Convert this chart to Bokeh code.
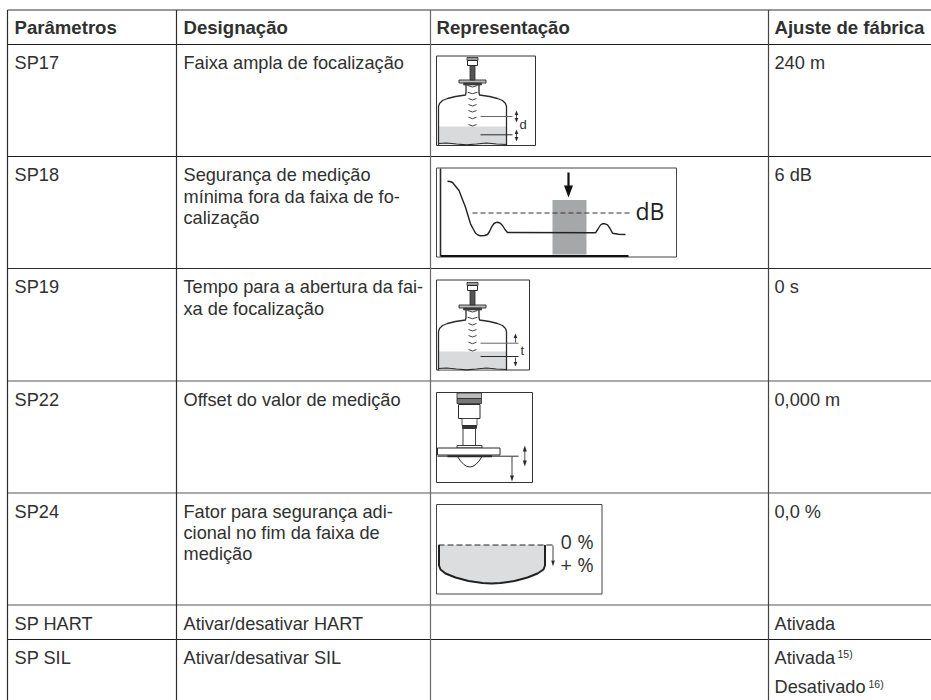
from bokeh.plotting import figure
from bokeh.embed import file_html
from bokeh.resources import INLINE
from bokeh.core.properties import value

# ---- table content ----
headers = ["Parâmetros", "Designação", "Representação", "Ajuste de fábrica"]
parameters = ["SP17", "SP18", "SP19", "SP22", "SP24", "SP HART", "SP SIL"]
designations = [
    ["Faixa ampla de focalização"],
    ["Segurança de medição", "mínima fora da faixa de fo-", "calização"],
    ["Tempo para a abertura da fai-", "xa de focalização"],
    ["Offset do valor de medição"],
    ["Fator para segurança adi-", "cional no fim da faixa de", "medição"],
    ["Ativar/desativar HART"],
    ["Ativar/desativar SIL"],
]
factory = ["240 m", "6 dB", "0 s", "0,000 m", "0,0 %", "Ativada", "Ativada"]
row_tops = [44, 156, 268, 380.5, 492.5, 604.5, 639]
row_colors = ["#1c1c1c", "#1c1c1c", "#2c2c2c", "#555555", "#555555", "#555555", "#1c1c1c"]
col_x = [7, 176, 430, 768]
col_colors = ["#2c2c2c", "#2c2c2c", "#6a6a6a", "#444444"]

INK = "#2a2a2a"
TXT = "#303030"
p = figure(width=931, height=700, x_range=(0, 931), y_range=(700, 0),
           toolbar_location=None, output_backend="svg", min_border=0,
           outline_line_color=None)
p.axis.visible = False
p.grid.visible = False
p.background_fill_color = "white"


def L(xs, ys, c=INK, w=1.0, dash="solid"):
    p.line(xs, ys, line_color=c, line_width=w, line_dash=dash)


def R(x0, y0, x1, y1, fill="white", line=INK, w=1.0):
    p.quad(left=x0, right=x1, top=y0, bottom=y1, fill_color=fill,
           line_color=line, line_width=w)


def T(x, y, s, size=18.2, bold=False, font="Liberation Sans", c=TXT):
    # y is the text baseline; the glyph is anchored at its vertical middle
    p.text([x], [y - 0.36 * size], text=[s], text_font=value(font),
           text_font_size=f"{size}px", text_color=c,
           text_font_style="bold" if bold else "normal",
           text_baseline="middle", text_align="left")


def head(x, y, up, c=INK, s=1.8, l=4.5):
    d = -1 if up else 1
    p.patch([x - s, x + s, x], [y - d * l, y - d * l, y], fill_color=c, line_color=None)


def sensor_tank(dy, gray=True):
    # vessel outline
    R(438, 126 + dy, 506, 144 + dy, fill="#d9dadb", line=None)
    lx = [438, 438, 439, 442, 447, 455, 465, 465.5, 465.5]
    ly = [145, 106, 103, 100, 98, 96, 94.5, 92, 84]
    L(lx, [v + dy for v in ly], w=1.3)
    rx = [506, 506, 505, 502, 497, 489, 479, 478.5, 478.5]
    L(rx, [v + dy for v in ly], w=1.3)
    L([438, 446, 456, 466, 476, 486, 496, 506],
      [v + dy for v in [143, 142.5, 143.5, 144.3, 143.5, 142.5, 143.5, 144]], w=1.2)
    # flange and sensor
    R(458.5, 79.5 + dy, 485.5, 82.5 + dy, fill="#bbbbbb", w=0.9)
    R(463, 82.5 + dy, 481, 84.5 + dy, fill="#444444", w=0.6)
    R(466.5, 57 + dy, 477.5, 60 + dy, fill="#999999", w=0.8)
    R(467, 60 + dy, 477, 65 + dy, fill="#ffffff", w=1.0)
    R(469.5, 65 + dy, 474.5, 79.5 + dy, fill="#555555", w=0.8)
    # radar waves
    for a, hw in zip([85, 91.7, 98, 104, 110, 116.7, 124], [5, 5, 4, 4, 4, 4, 4]):
        p.quadratic(x0=[472 - hw], y0=[a + dy], x1=[472 + hw], y1=[a + dy],
                    cx=[472], cy=[a + 3 + dy], line_color=INK, line_width=0.9)


# ---- table rules ----
for y, c in zip([9.5] + row_tops, ["#333333"] + row_colors):
    L([7, 931], [y, y], c=c, w=1.2)
for x, c in zip(col_x, col_colors):
    L([x, x], [9.5, 700], c=c, w=1.2)

# ---- text ----
for x, s in zip([14, 183, 436, 774], headers):
    T(x, 34, s, size=18.6, bold=True)
for s, y in zip(parameters, [t + 25.3 for t in row_tops[:6]] + [row_tops[6] + 25]):
    T(14, y, s)
for lines, top in zip(designations, row_tops):
    for j, s in enumerate(lines):
        T(183, top + 25.4 + j * 21.2, s)
for s, top in zip(factory, row_tops):
    T(774, top + 25.3, s)
T(837, 657, "15)", size=10.5)
T(774, 693, "Desativado")
T(868, 687, "16)", size=10.5)

# ---- diagram 1 ----
R(436, 55.5, 535, 145, fill="white", line="#333333", w=1)
sensor_tank(0)
L([480, 512], [116, 116], c="#666666")
L([480, 512], [134.3, 134.3])
L([516, 516], [112, 120], w=0.8)
head(516, 110, True); head(516, 122, False)
L([516, 516], [131, 139], w=0.8)
head(516, 129, True); head(516, 141, False)
T(519, 128.5, "d", size=13)

# ---- diagram 2 ----
R(436, 167.5, 676, 256.5, fill="white", line="#444444", w=1)
L([440, 440], [168, 255.5], w=1.6)
R(552, 199.5, 586, 254, fill="#a5a8a8", line=None)
L([440, 628], [255.5, 255.5], c="#111111", w=2)
L([472, 630], [212.5, 212.5], c="#333333", w=1, dash="5 3")
curve_x = [447, 449.5, 452, 458.5, 465, 470, 473, 475, 477.5, 480, 484, 487, 489, 491, 493.5, 496.5, 499.5, 502, 504.5, 507,
           595, 597.5, 600, 602, 604.5, 607, 609.5, 612, 618, 625]
curve_y = [180.7, 181, 182, 190, 206.7, 223.3, 229, 232.7, 234.5, 235.3, 235, 234, 231, 226.7, 223, 221.7, 222.5, 225, 229, 232,
           232.3, 228.5, 224.5, 223.3, 223.3, 224.3, 228, 232.7, 233.7, 234]
L(curve_x, curve_y, c="#222222", w=1.4)
L([568, 568], [172, 186], c="#111111", w=2.2)
head(568, 197, False, c="#111111", s=4.5, l=12)
T(635, 219, "dB", size=23, font="Open Sans", c="#222222")

# ---- diagram 3 ----
R(436, 279.5, 529, 369.5, fill="white", line="#333333", w=1)
sensor_tank(225)
L([480, 518], [342.7, 342.7], c="#666666")
L([480, 518], [356, 356])
L([515, 515], [335, 342], w=0.8); head(515, 333, True)
L([515, 515], [357, 364], w=0.8); head(515, 366, False)
T(520, 355, "t", size=13)

# ---- diagram 4 ----
R(436, 392, 532, 482, fill="white", line="#333333", w=1)
R(456.5, 392.5, 481, 398, fill="#bbbbbb", w=0.8)
R(456.5, 398, 481, 403, fill="#777777", w=0.8)
R(458, 404, 479.5, 418, fill="white", w=1)
R(461.5, 418, 476.5, 425, fill="white", w=0.8)
R(462, 425, 476, 428, fill="#333333", w=0.8)
R(462.5, 428, 475, 445, fill="white", w=0.9)
R(456.5, 445, 481.5, 447.5, fill="white", w=0.9)
R(437, 447.5, 499.5, 454.5, fill="white", w=1)
L([447, 491.5], [455.7, 455.7], c="#222222", w=2)
p.quadratic(x0=[457], y0=[456], x1=[481.5], y1=[456], cx=[469.5], cy=[477], line_color=INK, line_width=1)
L([437, 518], [455.7, 455.7], w=1)
L([511.5, 511.5], [456, 476], w=0.9); head(511.5, 481, False, s=2, l=6)
L([524.3, 524.3], [449, 462], w=0.8); head(524.3, 445, True, s=2, l=6); head(524.3, 466, False, s=2, l=6)

# ---- diagram 5 ----
R(436, 504, 601.5, 593.5, fill="white", line="#444444", w=1)
bowl_x = [438.5, 438.5, 440, 445, 455, 468, 482, 491, 500, 514, 527, 537, 543, 544.5, 544.5]
bowl_y = [544.5, 565, 569, 573, 577, 580.5, 582.5, 583, 582.5, 580.5, 577, 573, 569, 565, 544.5]
p.patch(bowl_x, bowl_y, fill_color="#dcddde", line_color=None)
L(bowl_x, bowl_y, c="#222222", w=2)
L([438, 555], [544.5, 544.5], c="#222222", w=1, dash="6 3")
L([552.5, 552.5], [545, 560], w=0.9); head(552.5, 566, False, s=1.8, l=6)
T(560, 548, "0 %", size=20, font="Open Sans", c="#333333")
T(560, 571, "+ %", size=20, font="Open Sans", c="#333333")

open("out.html", "w").write(file_html(p, INLINE))
